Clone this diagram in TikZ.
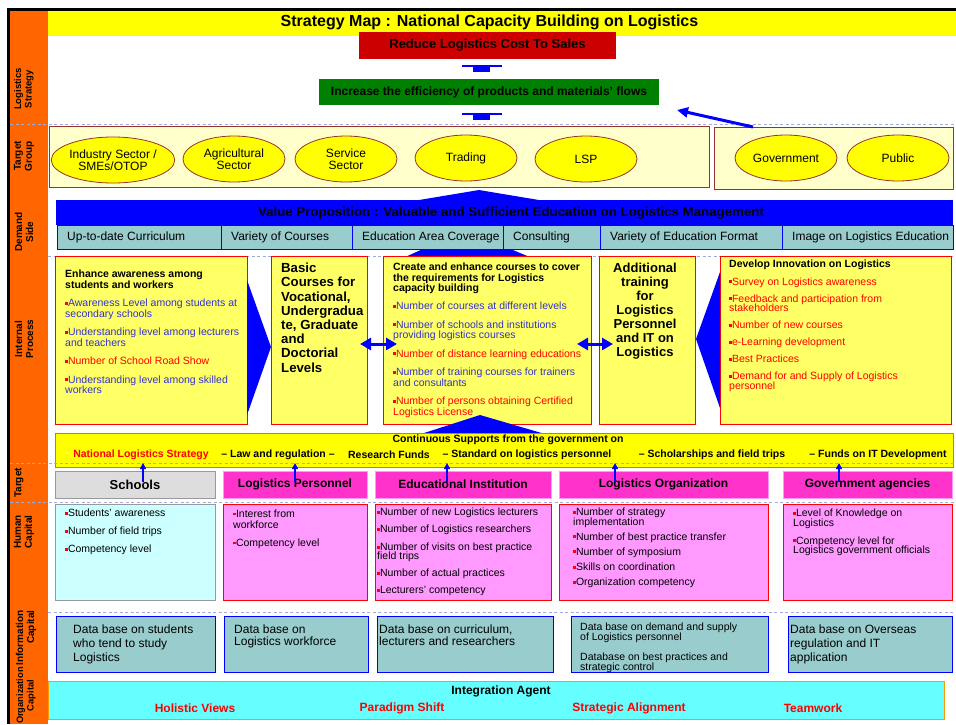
\documentclass[tikz,border=0pt]{standalone}
\usepackage{fontspec}
\setmainfont{Liberation Sans}
\usetikzlibrary{arrows.meta,shapes.geometric,calc}
\definecolor{orangeband}{HTML}{FF6600}
\definecolor{titleyellow}{HTML}{FFFF00}
\definecolor{redbox}{HTML}{CC0000}
\definecolor{greenbox}{HTML}{008000}
\definecolor{vblue}{HTML}{0000FF}
\definecolor{tgfill}{HTML}{FFFFCC}
\definecolor{tgdraw}{HTML}{993333}
\definecolor{ellfill}{HTML}{FFFF00}
\definecolor{cellfill}{HTML}{99CCCC}
\definecolor{ipfill}{HTML}{FFFF66}
\definecolor{ipdraw}{HTML}{FF0000}
\definecolor{tblue}{HTML}{3333CC}
\definecolor{tred}{HTML}{FF0000}
\definecolor{csdraw}{HTML}{FF6600}
\definecolor{schfill}{HTML}{DDDDDD}
\definecolor{graydraw}{HTML}{999999}
\definecolor{magfill}{HTML}{FF33CC}
\definecolor{magdraw}{HTML}{FF99FF}
\definecolor{hcafill}{HTML}{CCFFFF}
\definecolor{hcfill}{HTML}{FF99FF}
\definecolor{ocfill}{HTML}{66FFFF}
\definecolor{ocdraw}{HTML}{FF9900}
\definecolor{dashc}{HTML}{A0AADC}
\definecolor{faint}{HTML}{FFFFAA}
\newcommand\myfs[2]{\fontsize{#1pt}{#2pt}\selectfont\lineskiplimit=-20pt\relax}
\newcommand\mybul{\textcolor{tred}{\rule[0.22em]{0.27em}{0.27em}}}
\newcommand\tbl[1]{\textcolor{tblue}{#1}}
\newcommand\trd[1]{\textcolor{tred}{#1}}
\begin{document}
\begin{tikzpicture}[x=1pt,y=-1pt,
 box/.style={anchor=north west,inner sep=0pt,outer sep=0pt},
 txt/.style={anchor=north west,inner sep=0pt,align=left},
 ctxt/.style={inner sep=0pt,align=center},
 lbl/.style={rotate=90,inner sep=0pt,align=center,font=\bfseries\myfs{10}{11}},
 ell/.style={ellipse,draw=tgdraw,fill=ellfill,line width=0.8pt,inner sep=0pt,align=center,minimum width=102pt,minimum height=46pt,font=\myfs{12}{12}},
 cell/.style={box,draw=vblue,fill=cellfill,line width=0.7pt,minimum height=24pt},
 celltxt/.style={anchor=west,inner sep=0pt,font=\myfs{12}{13}},
 ipbox/.style={box,fill=ipfill,draw=ipdraw,line width=0.8pt,minimum height=168pt},
 tgtbox/.style={box,fill=magfill,draw=magdraw,line width=0.8pt,minimum height=27pt,font=\bfseries\myfs{12}{12}},
 hcbox/.style={box,fill=hcfill,draw=ipdraw,line width=0.8pt,minimum height=96pt},
 icbox/.style={box,fill=cellfill,draw=vblue,line width=0.8pt,minimum height=56pt},
 dline/.style={draw=dashc,line width=0.9pt,dash pattern=on 3pt off 2.5pt},
 upar/.style={-{Triangle[length=6pt,width=6pt]},color=vblue,line width=1.6pt},
 dbl/.style={{Triangle[length=11pt,width=12pt]}-{Triangle[length=11pt,width=12pt]},color=vblue,line width=3pt},
 bigar/.style={-{Triangle[length=11pt,width=10pt]},color=vblue,line width=3pt},
]
\useasboundingbox (0,0) rectangle (956,724);
\fill[white] (0,0) rectangle (956,724);
\fill[orangeband] (10,10) rectangle (48,724);
\fill[black] (7,7.5) rectangle (956,10.5);
\fill[black] (7,7.5) rectangle (10,724);
\fill[titleyellow] (48,10.5) rectangle (956,35.5);
% dashed separators
\draw[dline] (10,124) -- (956,124);
\draw[dline] (48,256) -- (956,256);
\draw[dline] (10,502) -- (956,502);
\draw[dline] (48,612) -- (956,612);
% left band labels
\node[lbl,font=\bfseries\myfs{9.5}{10.5}] (lab1) at (24,89) {Logistics\\Strategy};
\node[lbl] (lab2) at (24,156) {Target\\Group};
\node[lbl] (lab3) at (24,232) {Demand\\Side};
\node[lbl] (lab4) at (24,339) {Internal\\Process};
\node[lbl] (lab5) at (19,483) {Target};
\node[lbl] (lab6) at (24,532) {Human\\Capital};
\node[lbl,align=right] (lab7) at (26,638) {Information\\Capital};
\node[lbl,font=\bfseries\myfs{9.3}{10.5}] (lab8) at (26,695.5) {Organization\\Capital};
% title
\node[ctxt,font=\bfseries\myfs{16}{16}] (title) at (489.5,22.5) {Strategy Map : National Capacity Building on Logistics};
% strategy boxes
\node[box,fill=redbox,minimum width=257pt,minimum height=27pt,font=\bfseries\myfs{13}{13}] (reduce) at (359,32) {Reduce Logistics Cost To Sales};
\node[box,fill=greenbox,minimum width=340pt,minimum height=26pt,font=\bfseries\myfs{12}{12}] (increase) at (319,79) {Increase the efficiency of products and materials' flows};
% small up arrows
\fill[vblue] (462,64.5) rectangle (502,66.5);
\fill[vblue] (473,65) rectangle (490,72);
\fill[vblue] (462,112.5) rectangle (502,114.5);
\fill[vblue] (473,113) rectangle (490,120);
% target group
\node[box,fill=tgfill,draw=tgdraw,line width=0.8pt,minimum width=660pt,minimum height=61pt] (tgl) at (49,126) {};
\node[box,fill=tgfill,draw=tgdraw,line width=0.8pt,minimum width=239pt,minimum height=62pt] (tgr) at (714,127) {};
\node[ell,minimum width=117pt] (e1) at (113,160) {Industry Sector /\\SMEs/OTOP};
\node[ell] (e2) at (234,159) {Agricultural\\Sector};
\node[ell] (e3) at (346,159) {Service\\Sector};
\node[ell] (e4) at (466,158) {Trading};
\node[ell] (e5) at (586,159) {LSP};
\node[ell] (e6) at (786,158) {Government};
\node[ell] (e7) at (898,158) {Public};
\coordinate (gstart) at (753,127);
\coordinate (gend) at (677,110);
\draw[bigar] (gstart) -- (gend);
% demand side
\fill[vblue] (56,200) rectangle (953,225);
\fill[vblue] (413,201) -- (479,190) -- (545,201) -- cycle;
\node[ctxt,font=\bfseries\myfs{13.3}{14}] (vp) at (511,213) {Value Proposition : Valuable and Sufficient Education on Logistics Management};
\fill[vblue] (403,258) -- (465,230) -- (532,258) -- cycle;
\node[cell,minimum width=164pt] (c1) at (57,225) {};
\node[cell,minimum width=131pt] (c2) at (221,225) {};
\node[cell,minimum width=151pt] (c3) at (352,225) {};
\node[cell,minimum width=97pt] (c4) at (503,225) {};
\node[cell,minimum width=182pt] (c5) at (600,225) {};
\node[cell,minimum width=171pt] (c6) at (782,225) {};
\node[celltxt] (c1t) at ($(c1.west)+(10,0)$) {Up-to-date Curriculum};
\node[celltxt] (c2t) at ($(c2.west)+(10,0)$) {Variety of Courses};
\node[celltxt] (c3t) at ($(c3.west)+(10,0)$) {Education Area Coverage};
\node[celltxt] (c4t) at ($(c4.west)+(10,0)$) {Consulting};
\node[celltxt] (c5t) at ($(c5.west)+(10,0)$) {Variety of Education Format};
\node[celltxt] (c6t) at ($(c6.west)+(10,0)$) {Image on Logistics Education};
% internal process
\node[ipbox,minimum width=192pt] (ip1) at (55,256) {};
\node[ipbox,minimum width=96pt] (ip2) at (271,256) {};
\node[ipbox,minimum width=208pt] (ip3) at (383,256) {};
\node[ipbox,minimum width=96pt] (ip4) at (599,256) {};
\node[ipbox,minimum width=231pt] (ip5) at (720,256) {};
\fill[vblue] (247,280) -- (271,347) -- (247,415) -- cycle;
\fill[vblue] (720,272) -- (696,339) -- (720,408) -- cycle;
\fill[vblue] (421,434) -- (480,415) -- (545,434) -- cycle;
\coordinate (da1) at (360,344);
\coordinate (db1) at (397,344);
\coordinate (da2) at (577,344);
\coordinate (db2) at (613,344);
\draw[dbl] (da1) -- (db1);
\draw[dbl] (da2) -- (db2);
\node[txt,font=\myfs{10.5}{10.5}] (ip1txt) at (65,270) {%
\textbf{Enhance awareness among}\\
\textbf{students and workers}\\[8pt]
\mybul\tbl{Awareness Level among students at}\\
\tbl{secondary schools}\\[8pt]
\mybul\tbl{Understanding level among lecturers}\\
\tbl{and teachers}\\[8pt]
\mybul\trd{Number of School Road Show}\\[8pt]
\mybul\tbl{Understanding level among skilled}\\
\tbl{workers}};
\node[txt,font=\bfseries\myfs{13.2}{14.2}] (ip2txt) at (281,263) {Basic\\Courses for\\Vocational,\\Undergradua\\te, Graduate\\and\\Doctorial\\Levels};
\node[txt,font=\myfs{10.5}{10.5}] (ip3txt) at (393,263) {%
\textbf{Create and enhance courses to cover}\\
\textbf{the requirements for Logistics}\\
\textbf{capacity building}\\[7.5pt]
\mybul\tbl{Number of courses at different levels}\\[8pt]
\mybul\tbl{Number of schools and institutions}\\
\tbl{providing logistics courses}\\[8pt]
\mybul\trd{Number of distance learning educations}\\[8pt]
\mybul\tbl{Number of training courses for trainers}\\
\tbl{and consultants}\\[8pt]
\mybul\trd{Number of persons obtaining Certified}\\
\trd{Logistics License}};
\node[anchor=north,inner sep=0pt,align=center,font=\bfseries\myfs{13}{14}] (ip4txt) at (645,263) {Additional\\training\\for\\Logistics\\Personnel\\and IT on\\Logistics};
\node[txt,font=\myfs{10.5}{9.5}] (ip5txt) at (729,260) {%
\textbf{Develop Innovation on Logistics}\\[8pt]
\mybul\trd{Survey on Logistics awareness}\\[7.5pt]
\mybul\trd{Feedback and participation from}\\
\trd{stakeholders}\\[7.5pt]
\mybul\trd{Number of new courses}\\[7.5pt]
\mybul\trd{e-Learning development}\\[7.5pt]
\mybul\trd{Best Practices}\\[7.5pt]
\mybul\trd{Demand for and Supply of Logistics}\\
\trd{personnel}};
% continuous supports
\node[box,fill=titleyellow,draw=csdraw,line width=0.8pt,minimum width=898pt,minimum height=34pt] (cs) at (55,433) {};
\draw[dline] (10,463) -- (956,463);
\node[ctxt,font=\bfseries\myfs{10.5}{11}] (cstitle) at (508,440) {Continuous Supports from the government on};
\node[ctxt,font=\bfseries\myfs{10.5}{11},text=faint] (cs0) at (67,455) {-};
\node[ctxt,font=\bfseries\myfs{10.5}{11},text=tred] (cs1) at (141,455) {National Logistics Strategy};
\node[ctxt,font=\bfseries\myfs{10.5}{11}] (cs2) at (278,455) {– Law and regulation –};
\node[ctxt,font=\bfseries\myfs{10.5}{11}] (cs3) at (389,455) {Research Funds};
\node[ctxt,font=\bfseries\myfs{10.5}{11}] (cs4) at (527,455) {– Standard on logistics personnel};
\node[ctxt,font=\bfseries\myfs{10.5}{11}] (cs5) at (712,455) {– Scholarships and field trips};
\node[ctxt,font=\bfseries\myfs{10.5}{11}] (cs6) at (878,455) {– Funds on IT Development};
% target row
\node[box,fill=schfill,draw=graydraw,line width=0.8pt,minimum width=160pt,minimum height=27pt,font=\bfseries\myfs{13}{13}] (t1) at (55,471) {Schools};
\node[tgtbox,minimum width=144pt] (t2) at (223,471) {Logistics Personnel};
\node[tgtbox,minimum width=176pt] (t3) at (375,471) {Educational Institution};
\node[tgtbox,minimum width=209pt] (t4) at (559,471) {Logistics Organization};
\node[tgtbox,minimum width=169pt] (t5) at (783,471) {Government agencies};
\coordinate (u1) at (143,482); \coordinate (u1t) at (143,463);
\coordinate (u2) at (295,482); \coordinate (u2t) at (295,463);
\coordinate (u3) at (447,482); \coordinate (u3t) at (447,463);
\coordinate (u4) at (615,482); \coordinate (u4t) at (615,463);
\coordinate (u5) at (839,482); \coordinate (u5t) at (839,463);
\draw[upar] (u1) -- (u1t);
\draw[upar] (u2) -- (u2t);
\draw[upar] (u3) -- (u3t);
\draw[upar] (u4) -- (u4t);
\draw[upar] (u5) -- (u5t);
% human capital
\node[box,fill=hcafill,draw=graydraw,line width=0.8pt,minimum width=160pt,minimum height=96pt] (h1) at (55,504) {};
\node[hcbox,minimum width=144pt] (h2) at (223,504) {};
\node[hcbox,minimum width=176pt] (h3) at (375,504) {};
\node[hcbox,minimum width=209pt] (h4) at (559,504) {};
\node[hcbox,minimum width=169pt] (h5) at (783,504) {};
\node[txt,font=\myfs{10.5}{9.5}] (h1txt) at (65,509) {\mybul Students' awareness\\[8.5pt]\mybul Number of field trips\\[8.5pt]\mybul Competency level};
\node[txt,font=\myfs{10.5}{10.5}] (h2txt) at (233,510) {\mybul Interest from\\workforce\\[8pt]\mybul Competency level};
\node[txt,font=\myfs{10.5}{9}] (h3txt) at (377,508) {\mybul Number of new Logistics lecturers\\[8pt]\mybul Number of Logistics researchers\\[9pt]\mybul Number of visits on best practice\\field trips\\[8pt]\mybul Number of actual practices\\[8pt]\mybul Lecturers' competency};
\node[txt,font=\myfs{10.5}{9.5}] (h4txt) at (573,508) {\mybul Number of strategy\\implementation\\[5.5pt]\mybul Number of best practice transfer\\[5.5pt]\mybul Number of symposium\\[6pt]\mybul Skills on coordination\\[5.5pt]\mybul Organization competency};
\node[txt,font=\myfs{10.5}{9.5}] (h5txt) at (793,509) {\mybul Level of Knowledge on\\Logistics\\[8.5pt]\mybul Competency level for\\Logistics government officials};
% information capital
\node[icbox,minimum width=159pt] (i1) at (56,616) {};
\node[icbox,minimum width=144pt] (i2) at (224,616) {};
\node[icbox,minimum width=176pt] (i3) at (377,616) {};
\node[icbox,minimum width=197pt] (i4) at (571,616) {};
\node[icbox,minimum width=164pt] (i5) at (788,616) {};
\node[txt,font=\myfs{12}{14}] (i1txt) at (73,624.5) {Data base on students\\who tend to study\\Logistics};
\node[txt,font=\myfs{12}{12}] (i2txt) at (234,624.5) {Data base on\\Logistics workforce};
\node[txt,font=\myfs{12}{12}] (i3txt) at (379,624.5) {Data base on curriculum,\\lecturers and researchers};
\node[txt,font=\myfs{10.5}{10}] (i4txt) at (580,623) {Data base on demand and supply\\of Logistics personnel\\[10pt]Database on best practices and\\strategic control};
\node[txt,font=\myfs{12}{14}] (i5txt) at (790,624.5) {Data base on Overseas\\regulation and IT\\application};
% organization capital
\node[box,fill=ocfill,draw=ocdraw,line width=0.8pt,minimum width=896pt,minimum height=38pt] (oc) at (48,681) {};
\node[ctxt,font=\bfseries\myfs{12}{12}] (octitle) at (501,691) {Integration Agent};
\node[ctxt,font=\bfseries\myfs{12}{12},text=tred] (oc1) at (195,708) {Holistic Views};
\node[ctxt,font=\bfseries\myfs{12}{12},text=tred] (oc2) at (402,708) {Paradigm Shift};
\node[ctxt,font=\bfseries\myfs{12}{12},text=tred] (oc3) at (629,708) {Strategic Alignment};
\node[ctxt,font=\bfseries\myfs{12}{12},text=tred] (oc4) at (813,708) {Teamwork};
\end{tikzpicture}
\end{document}
